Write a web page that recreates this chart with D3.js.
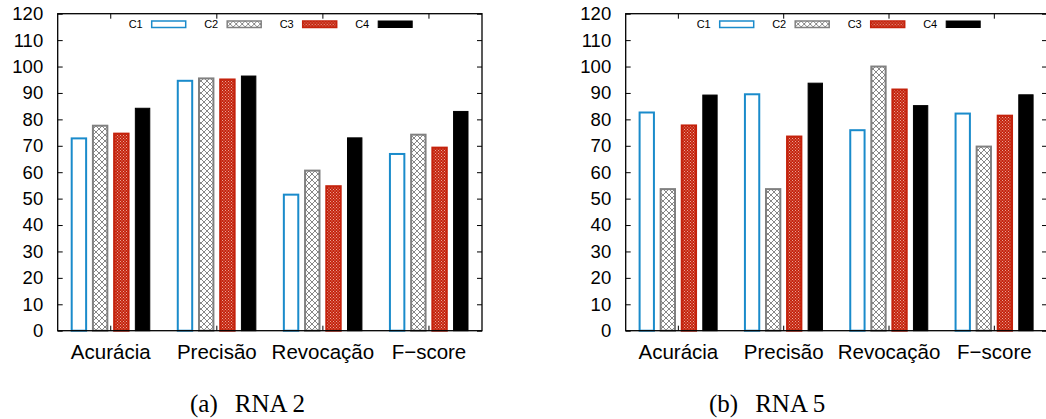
<!DOCTYPE html>
<html>
<head>
<meta charset="utf-8">
<script src="https://cdn.jsdelivr.net/npm/d3@7"></script>
<style>
  body { margin: 0; background: #fff; }
  svg { display: block; }
  .axis text { font-family: 'Liberation Sans', Arial, sans-serif; fill: #000; }
</style>
</head>
<body>
<svg width="1046" height="419"></svg>
<script>
// categories and series
const categories = ['Acurácia', 'Precisão', 'Revocação', 'F\u2212score']
const seriesNames = ['C1', 'C2', 'C3', 'C4']
const yTicks = [0, 10, 20, 30, 40, 50, 60, 70, 80, 90, 100, 110, 120]

// RNA 2 (left panel)
const rna2C1 = [72.8, 94.6, 51.5, 66.9]
const rna2C2 = [77.6, 95.5, 60.6, 74.2]
const rna2C3 = [74.6, 95.1, 54.7, 69.3]
const rna2C4 = [84.2, 96.4, 73.0, 83.0]
// RNA 5 (right panel)
const rna5C1 = [82.6, 89.5, 75.9, 82.2]
const rna5C2 = [53.6, 53.6, 100, 69.7]
const rna5C3 = [77.7, 73.5, 91.3, 81.4]
const rna5C4 = [89.2, 93.7, 85.2, 89.3]

const captionTags = ['(a)', '(b)']
const captionNames = ['RNA 2', 'RNA 5']

const svg = d3.select('svg')

// colours / fills for each series
const strokeOf = {C1: '#1a8bcb', C2: '#808080', C3: '#c4220c', C4: '#000'}
const fillOf = {C1: '#fff', C2: 'url(#hatch)', C3: 'url(#checker)', C4: '#000'}

const defs = svg.append('defs')
const hatch = defs.append('pattern')
  .attr('id', 'hatch')
  .attr('patternUnits', 'userSpaceOnUse')
  .attr('width', 6).attr('height', 6)
hatch.append('rect').attr('width', 6).attr('height', 6).attr('fill', '#fff')
hatch.append('path')
  .attr('d', 'M0,0L6,6M6,0L0,6')
  .attr('stroke', '#7a7a7a').attr('stroke-width', 0.9)
const checker = defs.append('pattern')
  .attr('id', 'checker')
  .attr('patternUnits', 'userSpaceOnUse')
  .attr('width', 3).attr('height', 3)
checker.append('rect').attr('width', 3).attr('height', 3).attr('fill', '#c4220c')
checker.append('rect').attr('width', 0.9).attr('height', 0.9).attr('fill', '#f4c4b8')
checker.append('rect').attr('x', 1.5).attr('y', 1.5).attr('width', 0.9).attr('height', 0.9).attr('fill', '#f4c4b8')

const plotTop = 13.7
const plotBottom = 330.7

const panels = [
  {left: 57.7, right: 482, data: [rna2C1, rna2C2, rna2C3, rna2C4], capX: 190},
  {left: 625.7, right: 1047, data: [rna5C1, rna5C2, rna5C3, rna5C4], capX: 709}
]

panels.forEach((p, pi) => drawPanel(p, pi))

function drawPanel(p, pi){
  const g = svg.append('g')
  const x = d3.scaleBand().domain(categories).range([p.left, p.right]).padding(0)
  const xs = d3.scaleBand().domain(seriesNames)
    .range([x.bandwidth() * 0.1, x.bandwidth() * 0.9])
    .paddingInner(0.32).paddingOuter(0.16)
  const y = d3.scaleLinear().domain([0, 120]).range([plotBottom, plotTop])

  // bars
  seriesNames.forEach((s, si) => {
    g.selectAll('.bar-' + s)
      .data(p.data[si])
      .enter()
      .append('rect')
        .attr('class', 'bar-' + s)
        .attr('x', (d, i) => x(categories[i]) + xs(s))
        .attr('y', d => y(d))
        .attr('width', xs.bandwidth())
        .attr('height', d => plotBottom - y(d))
        .attr('fill', fillOf[s])
        .attr('stroke', strokeOf[s])
        .attr('stroke-width', s === 'C4' ? 1 : 2)
  })

  // axes, ticks pointing inward
  const yl = g.append('g').attr('class', 'axis')
    .attr('transform', 'translate(' + p.left + ',0)')
    .call(d3.axisLeft(y).tickValues(yTicks).tickSize(-5).tickPadding(14.5))
  yl.selectAll('text').style('font-size', '18.5px')
  g.append('g').attr('class', 'axis')
    .attr('transform', 'translate(' + p.right + ',0)')
    .call(d3.axisRight(y).tickValues(yTicks).tickSize(-5).tickFormat(''))
  const xb = g.append('g').attr('class', 'axis')
    .attr('transform', 'translate(0,' + plotBottom + ')')
    .call(d3.axisBottom(x).tickSize(-5).tickPadding(14))
  xb.selectAll('text').style('font-size', '20.5px').attr('y', 28.5).attr('dy', 0)
  g.append('g').attr('class', 'axis')
    .attr('transform', 'translate(0,' + plotTop + ')')
    .call(d3.axisTop(x).tickSize(-5).tickFormat(''))
  g.selectAll('.axis .domain').remove()
  g.selectAll('.axis line').attr('stroke', '#000')

  // frame
  g.append('rect')
    .attr('x', p.left).attr('y', plotTop)
    .attr('width', p.right - p.left).attr('height', plotBottom - plotTop)
    .attr('fill', 'none').attr('stroke', '#000').attr('stroke-width', 1.3)

  // legend
  const leg = g.selectAll('.leg')
    .data(seriesNames)
    .enter()
    .append('g')
      .attr('transform', (d, i) => 'translate(' + (p.left + 94 + i * 75.5) + ',21)')
  leg.append('text')
    .attr('x', -9).attr('y', 7)
    .attr('text-anchor', 'end')
    .style('font-family', "'Liberation Sans', Arial, sans-serif")
    .style('font-size', '11px')
    .text(d => d)
  leg.append('rect')
    .attr('width', 34).attr('height', 6.5)
    .attr('fill', d => fillOf[d])
    .attr('stroke', d => strokeOf[d])
    .attr('stroke-width', d => d === 'C4' ? 1 : 1.5)

  // caption
  const cap = svg.append('text')
    .attr('x', p.capX).attr('y', 411.5)
    .style('font-family', "'Liberation Serif', 'Times New Roman', serif")
    .style('font-size', '25px')
  cap.append('tspan').text(captionTags[pi])
  cap.append('tspan').attr('dx', 17).text(captionNames[pi])
}
</script>
</body>
</html>
